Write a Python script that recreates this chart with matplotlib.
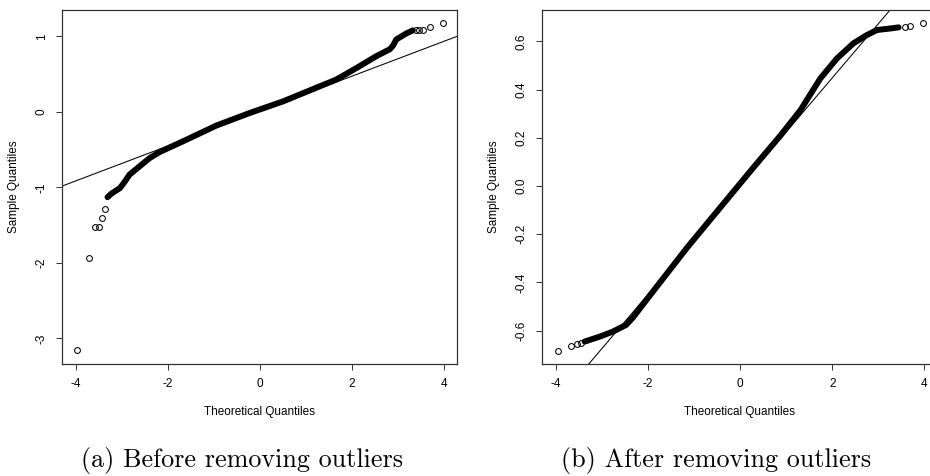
import matplotlib
matplotlib.use('Agg')
import matplotlib.pyplot as plt

plt.rcParams['font.family'] = ['Liberation Sans', 'DejaVu Sans']
plt.rcParams['axes.unicode_minus'] = False

# normal QQ plot of the residuals, before removing outliers
raw_band_x = [-3.31, -3.22, -3.04, -2.93, -2.83, -2.61, -2.39, -2.17, -1.67, -0.94,
              -0.22, 0.51, 1.23, 1.67, 2.10, 2.54, 2.83, 2.90, 2.97, 3.19, 3.33]
raw_band_y = [-1.13, -1.08, -1.01, -0.92, -0.83, -0.72, -0.61, -0.53, -0.39, -0.18,
              -0.015, 0.14, 0.32, 0.43, 0.58, 0.74, 0.83, 0.88, 0.96, 1.04, 1.08]
raw_tail_x = [-3.98, -3.71, -3.58, -3.49, -3.42, -3.36, 3.40, 3.46, 3.55, 3.70, 3.99]
raw_tail_y = [-3.16, -1.94, -1.53, -1.52, -1.40, -1.29, 1.08, 1.08, 1.09, 1.13, 1.18]
raw_line = (0.01, 0.231)   # intercept, slope of qqline

# same plot after removing outliers
clean_band_x = [-3.38, -3.06, -2.77, -2.48, -2.33, -1.87, -1.14, -0.42, 0.30, 0.88,
                1.31, 1.74, 2.10, 2.46, 2.75, 2.97, 3.29, 3.44]
clean_band_y = [-0.645, -0.625, -0.604, -0.576, -0.545, -0.431, -0.252, -0.086, 0.080, 0.211,
                0.315, 0.446, 0.529, 0.592, 0.626, 0.647, 0.654, 0.658]
clean_tail_x = [-3.95, -3.68, -3.54, -3.45, 3.57, 3.69, 3.97]
clean_tail_y = [-0.683, -0.662, -0.655, -0.652, 0.660, 0.665, 0.675]
clean_line = (0.0, 0.2243)

x_ticks = [-4, -2, 0, 2, 4]
raw_yticks = [-3, -2, -1, 0, 1]
clean_yticks = [-0.6, -0.4, -0.2, 0.0, 0.2, 0.4, 0.6]
captions = ['(a) Before removing outliers', '(b) After removing outliers']

fig = plt.figure(figsize=(9.30, 4.76), dpi=100)
ax1 = fig.add_axes([62/930, 1 - 364/476, 395/930, 354/476])
ax2 = fig.add_axes([542.3/930, 1 - 364/476, 395.4/930, 354/476])


def qqpanel(ax, bx, by, tx, ty, line, yticks, ylim, yfmt):
    ax.plot(bx, by, color='black', lw=4.3, solid_capstyle='round', solid_joinstyle='round')
    ax.plot(tx, ty, 'o', mfc='none', mec='black', ms=4.2, mew=0.75)
    ax.axline((0, line[0]), slope=line[1], color='black', lw=0.75)
    ax.set_xlim(-4.30, 4.29)
    ax.set_ylim(*ylim)
    ax.set_xticks(x_ticks)
    ax.set_xticklabels([str(t) for t in x_ticks])
    ax.set_yticks(yticks)
    ax.set_yticklabels([yfmt.format(t) for t in yticks])
    ax.tick_params(length=4.3, width=0.7, color='#333', labelsize=8.5, pad=6)
    ax.tick_params(axis='y', labelrotation=90)
    for lab in ax.get_yticklabels():
        lab.set_va('center')
    for s in ax.spines.values():
        s.set_color('#333')
        s.set_linewidth(0.9)
    ax.set_xlabel('Theoretical Quantiles', fontsize=8.5, va='center')
    ax.set_ylabel('Sample Quantiles', fontsize=8.5, va='center')
    ax.xaxis.set_label_coords(0.5, -0.1347)
    ax.yaxis.set_label_coords(-0.1215, 0.5)


qqpanel(ax1, raw_band_x, raw_band_y, raw_tail_x, raw_tail_y, raw_line,
        raw_yticks, (-3.34, 1.35), '{:.0f}')
qqpanel(ax2, clean_band_x, clean_band_y, clean_tail_x, clean_tail_y, clean_line,
        clean_yticks, (-0.738, 0.73), '{:.1f}')

fig.text(242/930, 1 - 466.5/476, captions[0], family='cmr10', fontsize=18.8,
         ha='center', va='baseline')
fig.text(716/930, 1 - 466.5/476, captions[1], family='cmr10', fontsize=18.8,
         ha='center', va='baseline')

plt.savefig('out.png', dpi=100)
